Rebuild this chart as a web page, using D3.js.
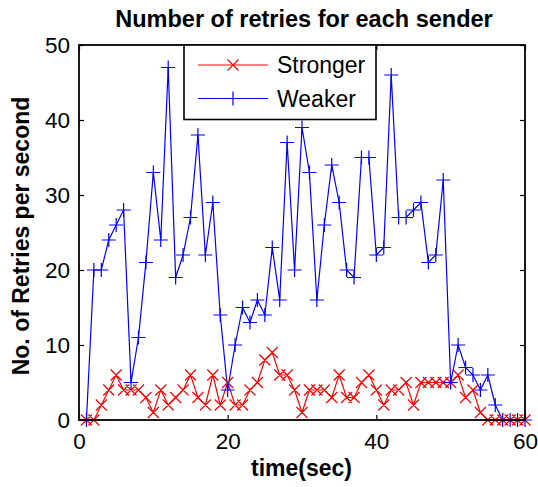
<!DOCTYPE html>
<html>
<head>
<meta charset="utf-8">
<script src="https://cdn.jsdelivr.net/npm/d3@7/dist/d3.min.js"></script>
<style>
  html, body { margin: 0; padding: 0; background: #fff; }
  svg { display: block; }
  text { font-family: "Liberation Sans", Arial, Helvetica, sans-serif; }
</style>
</head>
<body>
<svg id="chart" width="538" height="487"></svg>
<script>
// ---- data ----
const time = [1,2,3,4,5,6,7,8,9,10,11,12,13,14,15,16,17,18,19,20,
              21,22,23,24,25,26,27,28,29,30,31,32,33,34,35,36,37,38,39,40,
              41,42,43,44,45,46,47,48,49,50,51,52,53,54,55,56,57,58,59,60];
const stronger = [0,0,2,4,6,4,4,4,3,1,4,2,3,4,6,3,2,6,2,5,
                  2,2,4,5,8,9,6,6,4,1,4,4,4,3,6,3,3,5,6,4,
                  2,4,4,5,2,5,5,5,5,5,6,3,4,1,0,0,0,0,0,0];
const weaker = [0,20,20,24,26,28,5,11,21,33,24,47,19,22,27,38,22,29,14,4,
                10,15,13,16,14,23,16,37,20,39,33,16,26,34,29,20,19,35,35,22,
                23,46,27,27,28,29,21,22,32,5,10,7,6,4,6,2,0,0,0,0];
const seriesNames = ["Stronger", "Weaker"];
const xTicks = [0, 20, 40, 60];
const yTicks = [0, 10, 20, 30, 40, 50];
const titleText = "Number of retries for each sender";
const xLabel = "time(sec)";
const yLabel = "No. of Retries per second";

// ---- layout ----
const svg = d3.select("#chart");
const L = 79, R = 525, T = 45, B = 420;
const x = d3.scaleLinear().domain([0, 60]).range([L, R]);
const y = d3.scaleLinear().domain([0, 50]).range([B, T]);
const red = "#ff0000", blue = "#0000ff";

// axes (ticks inward, on all four sides)
const tickLen = 5;
const fs = "22.5px";
const gx = svg.append("g").attr("transform", `translate(0,${B})`)
  .call(d3.axisBottom(x).tickValues(xTicks).tickSize(-tickLen).tickPadding(13).tickFormat(d3.format("d")));
const gy = svg.append("g").attr("transform", `translate(${L},0)`)
  .call(d3.axisLeft(y).tickValues(yTicks).tickSize(-tickLen).tickPadding(9).tickFormat(d3.format("d")));
const gxt = svg.append("g").attr("transform", `translate(0,${T})`)
  .call(d3.axisTop(x).tickValues(xTicks).tickSize(-tickLen).tickFormat(""));
const gyr = svg.append("g").attr("transform", `translate(${R},0)`)
  .call(d3.axisRight(y).tickValues(yTicks).tickSize(-tickLen).tickFormat(""));
[gx, gy, gxt, gyr].forEach(g => {
  g.select(".domain").remove();
  g.selectAll(".tick line").attr("stroke", "#000").attr("stroke-width", 1.2);
  g.selectAll(".tick text").attr("fill", "#000").style("font-size", fs)
    .style("font-family", '"Liberation Sans", Arial, sans-serif');
});
gx.selectAll(".tick text").attr("dy", "0.71em");

// lines
const line = d3.line().x((d, i) => x(time[i])).y(d => y(d));

const plot = svg.append("g");
plot.append("path").datum(stronger).attr("d", line)
  .attr("fill", "none").attr("stroke", red).attr("stroke-width", 1.2);
plot.append("path").datum(weaker).attr("d", line)
  .attr("fill", "none").attr("stroke", blue).attr("stroke-width", 1.2);

const xs = 5.5, ps = 7;
function xMark(cx, cy) { return `M${cx - xs},${cy - xs}L${cx + xs},${cy + xs}M${cx - xs},${cy + xs}L${cx + xs},${cy - xs}`; }
function pMark(cx, cy) { return `M${cx - ps},${cy}L${cx + ps},${cy}M${cx},${cy - ps}L${cx},${cy + ps}`; }

plot.append("path")
  .attr("d", stronger.map((d, i) => xMark(x(time[i]), y(d))).join(""))
  .attr("fill", "none").attr("stroke", red).attr("stroke-width", 1.2);
plot.append("path")
  .attr("d", weaker.map((d, i) => pMark(x(time[i]), y(d))).join(""))
  .attr("fill", "none").attr("stroke", blue).attr("stroke-width", 1.2);

// frame
svg.append("rect").attr("x", L).attr("y", T).attr("width", R - L).attr("height", B - T)
  .attr("fill", "none").attr("stroke", "#000").attr("stroke-width", 1.8);

// legend
const lg = svg.append("g");
const lgX0 = 184, lgX1 = 376, lgY0 = T, lgY1 = 119.5;
lg.append("rect").attr("x", lgX0).attr("y", lgY0).attr("width", lgX1 - lgX0).attr("height", lgY1 - lgY0)
  .attr("fill", "#fff").attr("stroke", "#000").attr("stroke-width", 1.6);
const rows = [{name: seriesNames[0], color: red, mark: xMark, yy: 65},
              {name: seriesNames[1], color: blue, mark: pMark, yy: 98.5}];
rows.forEach(r => {
  lg.append("line").attr("x1", 198).attr("x2", 268).attr("y1", r.yy).attr("y2", r.yy)
    .attr("stroke", r.color).attr("stroke-width", 1.2);
  lg.append("path").attr("d", r.mark(233, r.yy)).attr("fill", "none")
    .attr("stroke", r.color).attr("stroke-width", 1.2);
  lg.append("text").attr("x", 277).attr("y", r.yy + 8.3).text(r.name)
    .style("font-size", "23px").attr("fill", "#000");
});

// title and labels
svg.append("text").attr("x", 304).attr("y", 27).attr("text-anchor", "middle")
  .style("font-size", "23.5px").style("font-weight", "bold").text(titleText);
svg.append("text").attr("x", 301.5).attr("y", 476).attr("text-anchor", "middle")
  .style("font-size", "23px").style("font-weight", "bold").text(xLabel);
svg.append("text").attr("transform", "translate(29,236) rotate(-90)").attr("text-anchor", "middle")
  .style("font-size", "23px").style("font-weight", "bold").text(yLabel);
</script>
</body>
</html>
